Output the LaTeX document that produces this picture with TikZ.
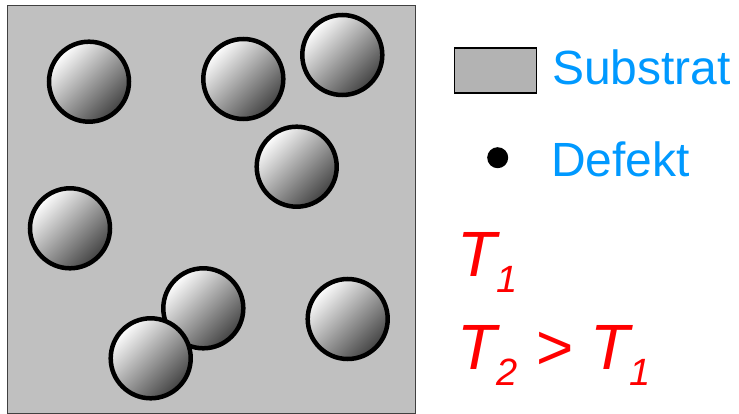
\documentclass[tikz,border=0pt]{standalone}
\usepackage{fontspec}
\setmainfont{Liberation Sans}
\usetikzlibrary{positioning}
\definecolor{substratgray}{HTML}{C0C0C0}
\definecolor{legendgray}{HTML}{B3B3B3}
\definecolor{legendblue}{HTML}{0099FF}
\newcommand{\tsub}[2]{#1\raisebox{-16pt}{\fontsize{38}{38}\selectfont #2}}

\begin{document}
\begin{tikzpicture}[x=1pt, y=-1pt,
  island/.style={line width=4.5pt, shading=axis, top color=white, middle color=black!10, bottom color=black!74, shading angle=45},
  legendtext/.style={anchor=base west, inner sep=0pt, text=legendblue, font=\fontsize{48}{48}\selectfont},
  temptext/.style={anchor=base west, inner sep=0pt, text=red, font=\fontsize{64}{64}\selectfont\itshape}]
  \useasboundingbox (0,0) rectangle (739,414);
  % Substrate with islands
  \draw[fill=substratgray, draw=black!75, line width=1pt] (7.5,6) rectangle (415.5,413);
  \foreach \cx/\cy in {89/81.7, 243.3/79, 342.3/55, 296.7/166.7, 70/228.3, 347.7/319, 203.3/308.3, 150.7/358.3}
    \draw[island] (\cx,\cy) circle[radius=40];
  % Legend
  \node[draw, fill=legendgray, line width=1.5pt, minimum width=82pt, minimum height=45pt, inner sep=0pt] (substratbox) at (495.3,70.5) {};
  \node[legendtext] (substrat) at (552,85) {Substrat};
  \node[fill, circle, minimum size=21pt, inner sep=0pt] (defektdot) at (497.7,157.7) {};
  \node[legendtext] (defekt) at (551,176.7) {Defekt};
  % Temperatures
  \node[temptext] (tone) at (457,276.7) {\tsub{T}{1}};
  \node[temptext] (ttwo) at (457,369.3) {\tsub{T}{2} > \tsub{T}{1}};
\end{tikzpicture}
\end{document}
